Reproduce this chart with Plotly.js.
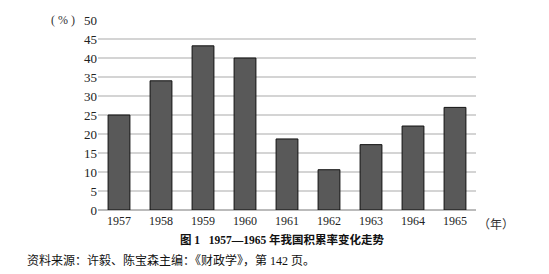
<!DOCTYPE html>
<html>
<head>
<meta charset="utf-8">
<script src="https://cdn.plot.ly/plotly-3.0.1.min.js"></script>
<style>html,body{margin:0;padding:0;background:#fff;}</style>
</head>
<body>
<div id="chart" style="width:549px;height:274px;"></div>
<script>
const years = ['1957','1958','1959','1960','1961','1962','1963','1964','1965'];
const rates = [25, 34, 43.2, 40, 18.7, 10.6, 17.2, 22.1, 27];
const yTicks = [0,5,10,15,20,25,30,35,40,45,50];

const serif = 'Liberation Serif, Times New Roman, serif';
const cjk = 'Liberation Serif, Noto Sans CJK SC, serif';

Plotly.newPlot('chart', [{
  type: 'bar',
  x: years,
  y: rates,
  marker: {color: '#595959', line: {color: '#111', width: 1}},
  hoverinfo: 'none'
}], {
  width: 549, height: 274,
  margin: {l: 98, r: 73, t: 20, b: 64},
  paper_bgcolor: '#fff', plot_bgcolor: '#fff',
  bargap: 0.48,
  showlegend: false,
  xaxis: {
    type: 'category',
    tickfont: {family: serif, size: 12, color: '#222'},
    showgrid: false, showline: false, ticks: '',
    ticklabelstandoff: 2
  },
  yaxis: {
    range: [0, 50],
    tickvals: yTicks,
    ticktext: yTicks.map(String),
    tickfont: {family: serif, size: 13, color: '#222'},
    showgrid: true, gridcolor: '#d4d4d4', gridwidth: 1.5,
    zeroline: true, zerolinecolor: '#bbb', zerolinewidth: 1.5,
    showline: false, ticks: ''
  },
  annotations: [
    {xref: 'paper', yref: 'paper', x: -0.056, y: 1, xanchor: 'right', yanchor: 'middle',
     text: '( % )', showarrow: false, font: {family: serif, size: 12, color: '#333'}},
    {xref: 'paper', yref: 'paper', x: 1.0, y: 0, xanchor: 'left', yanchor: 'top', yshift: -3,
     text: '（年）', showarrow: false, font: {family: 'Noto Sans CJK SC', size: 12, color: '#333'}},
    {xref: 'paper', yref: 'paper', x: 0.487, y: 0, xanchor: 'center', yanchor: 'top', yshift: -21,
     text: '<b>图 1   1957—1965 年我国积累率变化走势</b>', showarrow: false,
     font: {family: cjk, size: 11.5, color: '#111'}},
    {xref: 'paper', yref: 'paper', x: 0, y: 0, xanchor: 'left', yanchor: 'top', xshift: -73, yshift: -41,
     text: '资料来源：许毅、陈宝森主编：《财政学》，第 142 页。', showarrow: false,
     font: {family: cjk, size: 12, color: '#111'}}
  ]
}, {staticPlot: true, displayModeBar: false});
</script>
</body>
</html>
